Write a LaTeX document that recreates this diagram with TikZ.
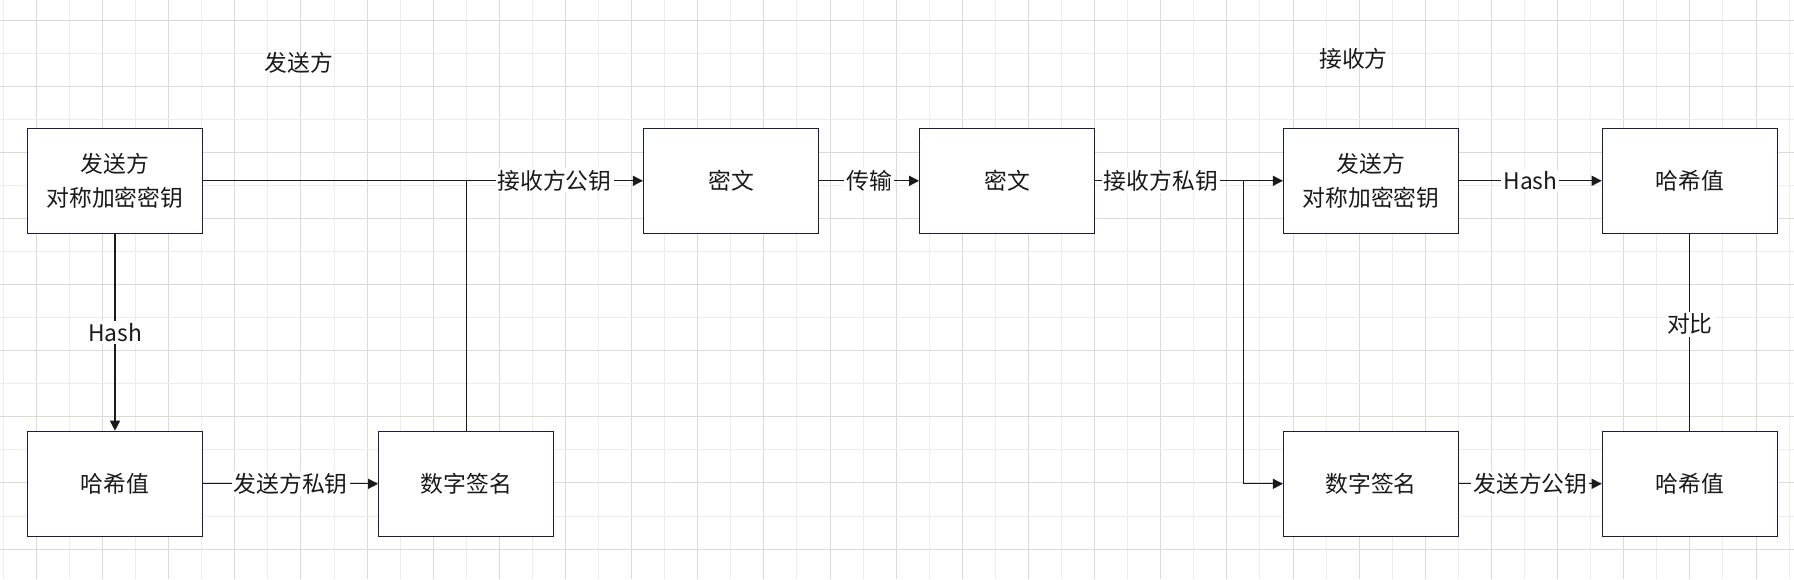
\documentclass[tikz,border=0pt]{standalone}
\usepackage{fontspec}
\setmainfont{Noto Sans CJK SC}
\usetikzlibrary{arrows.meta,calc}
\definecolor{boxline}{HTML}{1B1D45}
\definecolor{ink}{HTML}{1A1A1A}
\definecolor{gridA}{HTML}{DADADA}
\definecolor{gridB}{HTML}{EDEDED}
\begin{document}
\begin{tikzpicture}[x=0.5pt,y=-0.5pt,
  txt/.style={font=\fontsize{11.4pt}{17pt}\selectfont, text=ink},
  box/.style={txt, draw=boxline, line width=0.6pt, fill=white, minimum width=87.5pt, minimum height=52.5pt, inner sep=0pt, align=center},
  lbl/.style={txt, fill=white, inner sep=1pt},
  conn/.style={draw=ink, line width=0.6pt},
  arr/.style={conn, -{Triangle[length=5pt,width=5pt]}}]
\fill[white] (0,0) rectangle (1794,579);
\useasboundingbox (0,0) rectangle (1794,579);
% grid
\foreach \i in {0,...,54}{%
  \pgfmathsetmacro{\gx}{3.3+33.07*\i}%
  \ifodd\i\def\gc{gridA}\else\def\gc{gridB}\fi
  \draw[\gc, line width=0.5pt] (\gx,0) -- (\gx,579);}
\foreach \j in {0,...,16}{%
  \pgfmathsetmacro{\gy}{20+33.07*\j}%
  \ifodd\j\def\gc{gridB}\else\def\gc{gridA}\fi
  \draw[\gc, line width=0.5pt] (0,\gy) -- (1794,\gy);}
% titles
\node[txt] (t1) at (299,62.5) {发送方};
\node[txt] (t2) at (1353.5,59) {接收方};
% boxes
\node[box] (A)  at (115,180.8)   {发送方\\对称加密密钥};
\node[box] (H1) at (115,483.8)   {哈希值};
\node[box] (S1) at (466.2,483.8) {数字签名};
\node[box] (C1) at (731,180.8)   {密文};
\node[box] (C2) at (1007.2,180.8){密文};
\node[box] (B)  at (1371,180.8)  {发送方\\对称加密密钥};
\node[box] (H2) at (1689.8,180.8){哈希值};
\node[box] (S2) at (1371,483.8)  {数字签名};
\node[box] (H3) at (1689.8,483.8){哈希值};
\coordinate (J1) at (S1.north |- A.east);
\coordinate (J2) at (1243.4,180.8);
% connectors
\draw[arr] (A.east) -- (C1.west);
\draw[conn] (S1.north) -- (J1);
\path (J1) -- (C1.west) node[lbl, midway] {接收方公钥};
\draw[arr] (A.south) -- node[lbl] {Hash} (H1.north);
\draw[arr] (H1.east) -- node[lbl] {发送方私钥} (S1.west);
\draw[arr] (C1.east) -- node[lbl] {传输} (C2.west);
\draw[arr] (C2.east) -- (B.west);
\draw[arr] (J2) |- (S2.west);
\path (C2.east) -- (J2) node[lbl, pos=0.443] {接收方私钥};
\draw[arr] (B.east) -- node[lbl] {Hash} (H2.west);
\draw[arr] (S2.east) -- node[lbl] {发送方公钥} (H3.west);
\draw[conn] (H2.south) -- node[lbl, pos=0.458] {对比} (H3.north);
\end{tikzpicture}
\end{document}
